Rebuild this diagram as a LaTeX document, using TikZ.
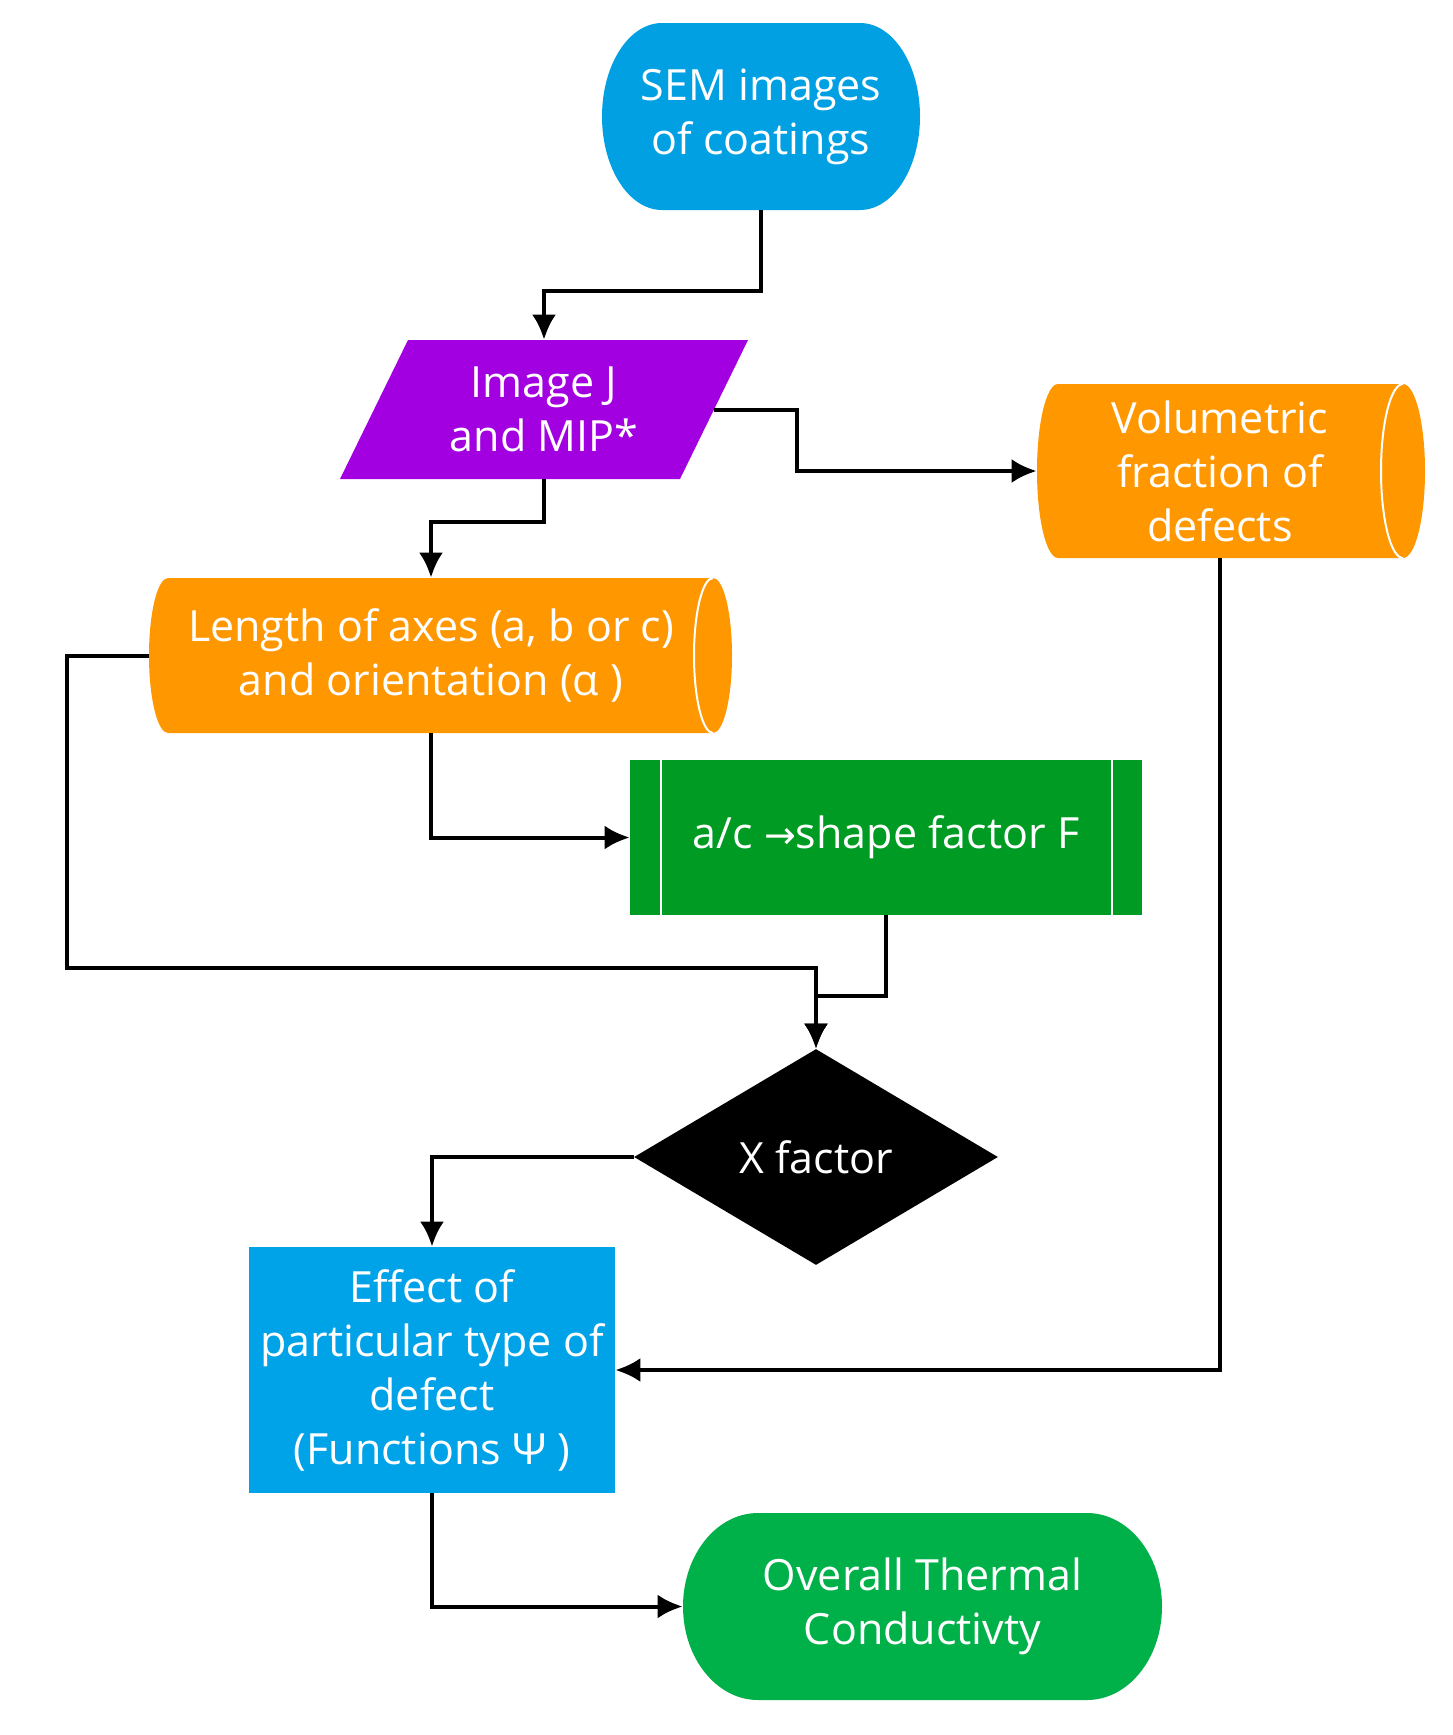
\documentclass[tikz,border=0pt]{standalone}
\usepackage{fontspec}
\setmainfont{Open Sans}
\newfontfamily\djv{DejaVu Sans}
\usetikzlibrary{arrows.meta,shapes.geometric}
\definecolor{cSem}{RGB}{0,160,227}
\definecolor{cPur}{RGB}{162,0,225}
\definecolor{cOra}{RGB}{255,151,0}
\definecolor{cGrR}{RGB}{0,155,35}
\definecolor{cBlu}{RGB}{0,162,232}
\definecolor{cGrT}{RGB}{0,176,72}
\begin{document}
\begin{tikzpicture}[x=0.5pt,y=-0.5pt,
  lbl/.style={text=white,align=center,inner sep=0pt,font=\fontsize{21.5pt}{27pt}\selectfont},
  conn/.style={line width=2pt,-{Latex[length=12.5pt,width=12pt]}},
  whiteline/.style={white,line width=1pt}]
\useasboundingbox (0,0) rectangle (1452,1735);
% shapes drawn directly
\fill[cSem] (662,23) -- (860,23) arc[start angle=270,end angle=450,x radius=60,y radius=93.5]
  -- (662,210) arc[start angle=90,end angle=270,x radius=60,y radius=93.5] -- cycle;
\fill[cPur] (408,340) -- (748,340) -- (680,479) -- (340,479) -- cycle;
\fill[cOra] (1058,384) -- (1403,384) arc[start angle=270,end angle=450,x radius=22,y radius=87]
  -- (1058,558) arc[start angle=90,end angle=270,x radius=21,y radius=87] -- cycle;
\draw[whiteline] (1403,384) arc[start angle=270,end angle=90,x radius=22,y radius=87];
\fill[cOra] (168,578) -- (713,578) arc[start angle=270,end angle=450,x radius=19,y radius=77.5]
  -- (168,733) arc[start angle=90,end angle=270,x radius=19,y radius=77.5] -- cycle;
\draw[whiteline] (713,578) arc[start angle=270,end angle=90,x radius=19,y radius=77.5];
\fill[cGrT] (758,1513) -- (1087,1513) arc[start angle=270,end angle=450,x radius=75,y radius=93.5]
  -- (758,1700) arc[start angle=90,end angle=270,x radius=75,y radius=93.5] -- cycle;
% nodes
\node[lbl,minimum width=159pt,minimum height=93.5pt] (sem) at (761,116.5) {SEM images\\of coatings};
\node[lbl,minimum width=204pt,minimum height=69.5pt] (img) at (544,409.5) {Image J\\and MIP*};
\node[lbl,minimum width=183pt,minimum height=87pt] (vol) at (1220,471) {Volumetric\\fraction of\\defects};
\node[lbl,minimum width=282pt,minimum height=77.5pt] (len) at (431,655.5) {Length of axes (a, b or c)\\and orientation (α )};
\node[lbl,fill=cGrR,minimum width=256pt,minimum height=77.5pt] (shp) at (886,837.5) {a/c {\djv\fontsize{19pt}{27pt}\selectfont →}shape factor F};
\draw[whiteline] ([xshift=15.5pt]shp.north west) -- ([xshift=15.5pt]shp.south west);
\draw[whiteline] ([xshift=-15pt]shp.north east) -- ([xshift=-15pt]shp.south east);
\node[lbl,diamond,fill=black,minimum width=182pt,minimum height=108pt] (xf) at (816,1157) {X factor};
\node[lbl,fill=cBlu,minimum width=183pt,minimum height=123pt] (eff) at (432,1370) {Effect of\\particular type of\\defect\\(Functions Ψ )};
\node[lbl,minimum width=239.5pt,minimum height=93.5pt] (otc) at (922.5,1606.5) {Overall Thermal\\Conductivty};
% connectors
\coordinate (lk) at (67,968);
\draw[conn] (sem.south) -- ++(0,81) -| (img.north);
\draw[conn] ([xshift=-17pt]img.east) -- ++(83,0) |- (vol.west);
\draw[conn] (img.south) -- ++(0,43) -| (len.north);
\draw[conn] (len.south) |- (shp.west);
\draw[conn] (len.west) -| (lk) -| (xf.north);
\draw[conn] (shp.south) -- ++(0,81) -| (xf.north);
\draw[conn] (xf.west) -| (eff.north);
\draw[conn] (vol.south) |- (eff.east);
\draw[conn] (eff.south) |- (otc.west);
\end{tikzpicture}
\end{document}
